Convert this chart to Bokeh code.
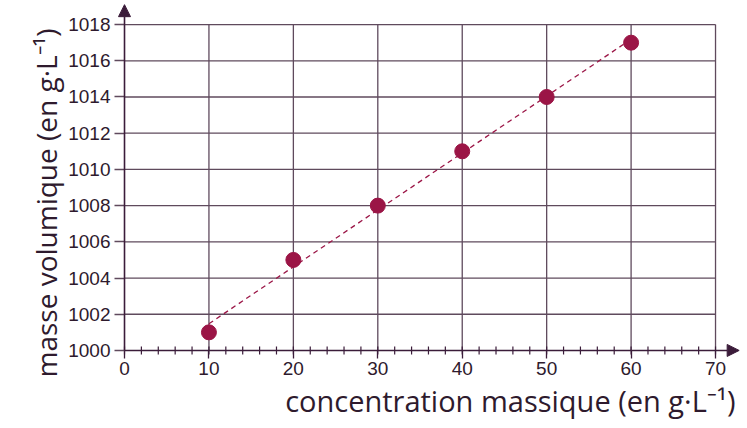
import numpy as np
from bokeh.plotting import figure
from bokeh.models import Range1d, FixedTicker, Arrow, NormalHead, Title
from bokeh.embed import file_html
from bokeh.resources import INLINE

# data
concentration = [10, 20, 30, 40, 50, 60]
masse_volumique = [1001, 1005, 1008, 1011, 1014, 1017]
x_ticks = [0, 10, 20, 30, 40, 50, 60, 70]
x_minor = [v for v in range(0, 71, 2)]
y_ticks = [1000, 1002, 1004, 1006, 1008, 1010, 1012, 1014, 1016, 1018]
fit_x = [10, 59.2]
x_title = "concentration massique (en g·L⁻¹)"
y_title = "masse volumique (en g·L⁻¹)"

AXIS = "#3b1c3a"
GRID = "#5f4a5d"
TEXT = "#2e1a2d"
POINT = "#9b1546"

X_START = -0.83
X_END = 73.55
Y_START = 999.61
Y_END = 1019.33
ARROW_X = 72.8
ARROW_Y = 1019.1

p = figure(width=745, height=426, output_backend="svg", toolbar_location=None,
           x_range=Range1d(X_START, X_END), y_range=Range1d(Y_START, Y_END),
           min_border_left=117, min_border_right=0, min_border_top=0, min_border_bottom=69)
p.outline_line_color = None
p.xgrid.visible = False
p.ygrid.visible = False

# grid lines from tick arrays
gx = [t for t in x_ticks if t > 0]
p.segment(x0=gx, y0=[y_ticks[0]] * len(gx), x1=gx, y1=[y_ticks[-1]] * len(gx),
          line_color=GRID, line_width=1.3)
gy = [t for t in y_ticks if t > y_ticks[0]]
p.segment(x0=[x_ticks[0]] * len(gy), y0=gy, x1=[x_ticks[-1]] * len(gy), y1=gy,
          line_color=GRID, line_width=1.3)

# minor ticks crossing the x axis
p.scatter(x_minor, [y_ticks[0]] * len(x_minor), marker="dash", angle=np.pi / 2,
          size=8, line_color=AXIS, line_width=1.2)

# axes (at frame edges, ticks reaching the axis lines)
xa = p.xaxis[0]
xa.ticker = FixedTicker(ticks=x_ticks, minor_ticks=[])
xa.axis_line_color = None
xa.major_tick_line_color = AXIS
xa.major_tick_line_width = 1.3
xa.major_tick_in = 7
xa.major_tick_out = 1
xa.minor_tick_line_color = None
xa.major_label_text_font = "Liberation Sans"
xa.major_label_text_font_size = "19px"
xa.major_label_text_color = TEXT
xa.major_label_standoff = 3

ya = p.yaxis[0]
ya.ticker = FixedTicker(ticks=y_ticks, minor_ticks=[])
ya.axis_line_color = None
ya.major_tick_line_color = GRID
ya.major_tick_line_width = 1.3
ya.major_tick_in = 7
ya.major_tick_out = 3
ya.minor_tick_line_color = None
ya.major_label_text_font = "Liberation Sans"
ya.major_label_text_font_size = "19px"
ya.major_label_text_color = TEXT
ya.major_label_standoff = 4

# axis lines with arrow heads
p.add_layout(Arrow(end=NormalHead(size=12, fill_color=AXIS, line_color=AXIS),
                   x_start=0, y_start=1000, x_end=ARROW_X, y_end=1000,
                   line_color=AXIS, line_width=1.6))
p.add_layout(Arrow(end=NormalHead(size=12, fill_color=AXIS, line_color=AXIS),
                   x_start=0, y_start=1000, x_end=0, y_end=ARROW_Y,
                   line_color=AXIS, line_width=1.6))

# fit line
slope, intercept = np.polyfit(concentration, masse_volumique, 1)
fy = [slope * v + intercept for v in fit_x]
p.line(fit_x, fy, line_color=POINT, line_width=1.3, line_dash="5 4")

# points
p.scatter(concentration, masse_volumique, size=15, fill_color=POINT, line_color=POINT)

# titles
p.add_layout(Title(text=x_title, align="right", offset=10, standoff=3,
                   text_font="Open Sans", text_font_size="29px", text_font_style="normal",
                   text_color=TEXT), "below")
p.add_layout(Title(text=y_title, align="left", offset=-20, standoff=1,
                   text_font="Open Sans", text_font_size="28px", text_font_style="normal",
                   text_color=TEXT), "left")

open("out.html", "w").write(file_html(p, INLINE))
